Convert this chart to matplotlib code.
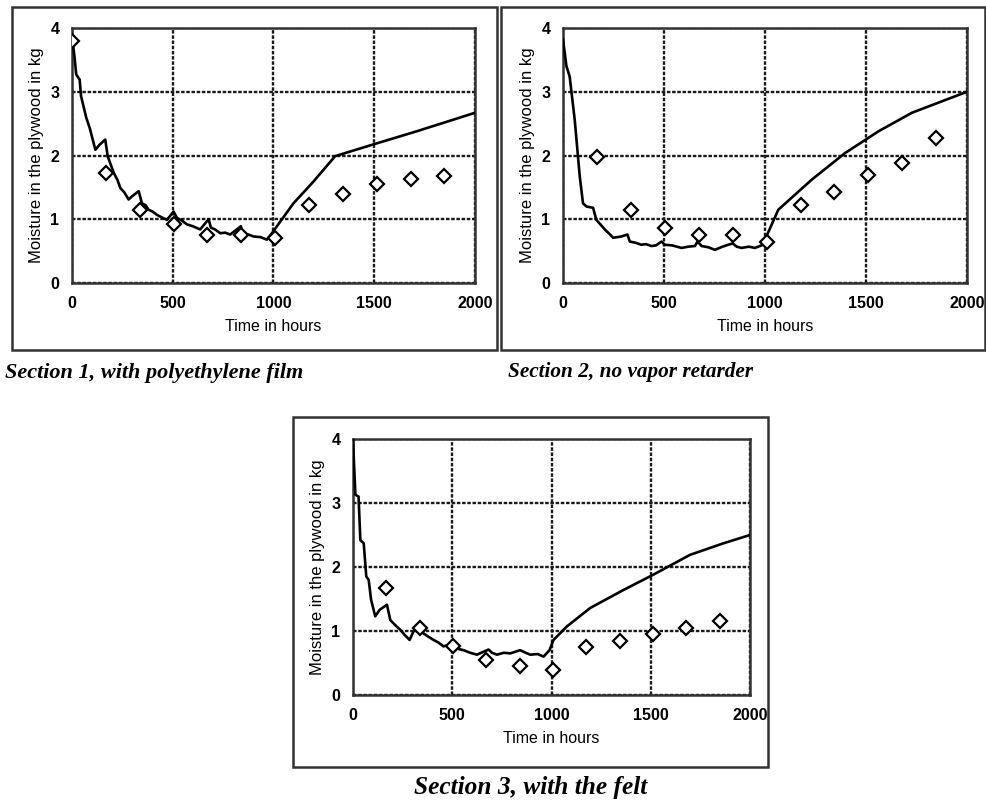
import matplotlib
matplotlib.use("Agg")
import matplotlib.pyplot as plt
from matplotlib.patches import Rectangle

# ---------------- data ----------------
meas_t = [0, 168, 336, 504, 672, 840, 1008, 1176, 1344, 1512, 1680, 1848]

# Section 1, with polyethylene film
s1_meas = [3.80, 1.72, 1.14, 0.93, 0.76, 0.76, 0.71, 1.22, 1.39, 1.55, 1.63, 1.68]
s1_t = [0, 12, 21, 38, 45, 71, 88, 116, 137, 165, 177, 207, 225, 240, 260, 281, 298, 331,
        347, 365, 380, 400, 421, 445, 471, 504, 521, 545, 570, 600, 636, 678, 689, 710, 736,
        760, 785, 838, 848, 875, 901, 935, 967, 992, 1017, 1099, 1198, 1306, 1512, 1711, 2000]
s1_sim = [3.87, 3.56, 3.27, 3.19, 2.93, 2.59, 2.43, 2.09, 2.17, 2.25, 1.99, 1.73,
          1.62, 1.49, 1.42, 1.31, 1.36, 1.44, 1.25, 1.22, 1.15, 1.12, 1.07, 1.03,
          0.99, 1.12, 1.02, 0.98, 0.92, 0.89, 0.84, 1.00, 0.87, 0.84, 0.78, 0.79,
          0.76, 0.89, 0.78, 0.76, 0.73, 0.72, 0.68, 0.78, 0.89, 1.25, 1.59,
          1.99, 2.19, 2.38, 2.67]

# Section 2, no vapor retarder
s2_meas = [1.98, 1.14, 0.86, 0.76, 0.76, 0.65, 1.22, 1.42, 1.70, 1.89, 2.27]
s2_meas_t = [168, 336, 504, 672, 840, 1008, 1176, 1344, 1512, 1680, 1848]
s2_t = [0, 17, 33, 58, 83, 99, 116, 149, 165, 185, 207, 230, 248, 270, 289, 319, 331,
        360, 388, 410, 438, 460, 488, 504, 540, 587, 620, 653, 666, 686, 720, 752,
        790, 818, 840, 860, 884, 920, 950, 983, 997, 1066, 1231, 1397, 1562, 1727, 2000]
s2_sim = [3.82, 3.40, 3.24, 2.56, 1.67, 1.25, 1.20, 1.18, 0.99, 0.92, 0.84, 0.77,
          0.71, 0.72, 0.73, 0.76, 0.65, 0.63, 0.60, 0.61, 0.58, 0.59, 0.65, 0.60,
          0.59, 0.55, 0.57, 0.58, 0.65, 0.58, 0.56, 0.52, 0.57, 0.60, 0.62, 0.57,
          0.55, 0.57, 0.55, 0.59, 0.66, 1.15, 1.62, 2.04, 2.38, 2.67, 3.00]

# Section 3, with the felt
s3_meas = [1.67, 1.04, 0.76, 0.55, 0.45, 0.39, 0.75, 0.85, 0.96, 1.04, 1.15]
s3_meas_t = [168, 336, 504, 672, 840, 1008, 1176, 1344, 1512, 1680, 1848]
s3_t = [0, 12, 28, 37, 54, 67, 79, 91, 112, 134, 171, 188, 210, 238, 260, 285, 309, 330,
        356, 380, 406, 430, 456, 480, 507, 530, 557, 590, 624, 683, 700, 725, 760, 792,
        842, 870, 893, 930, 960, 990, 1010, 1077, 1195, 1362, 1513, 1698, 1866, 2000]
s3_sim = [3.99, 3.13, 3.10, 2.42, 2.37, 1.85, 1.80, 1.49, 1.23, 1.33, 1.41,
          1.17, 1.10, 1.02, 0.94, 0.86, 1.02, 1.07, 0.96, 0.91, 0.86, 0.82, 0.76,
          0.78, 0.76, 0.72, 0.70, 0.66, 0.63, 0.71, 0.66, 0.63, 0.66, 0.65, 0.70,
          0.66, 0.63, 0.64, 0.60, 0.70, 0.86, 1.07, 1.36, 1.64, 1.88, 2.19, 2.37, 2.50]

xticks = [0, 500, 1000, 1500, 2000]
yticks = [0, 1, 2, 3, 4]
xlabel = "Time in hours"
ylabel = "Moisture in the plywood in kg"
captions = ["Section 1, with polyethylene film",
            "Section 2, no vapor retarder",
            "Section 3, with the felt"]

# ---------------- figure ----------------
W, H = 987, 801
fig = plt.figure(figsize=(W / 100, H / 100), dpi=100)
fig.patch.set_facecolor("white")


def fx(px):
    return px / W


def fy(py):
    return 1 - py / H


def frame(x0, y0, x1, y1):
    fig.patches.append(Rectangle((fx(x0), fy(y1)), fx(x1) - fx(x0), fy(y0) - fy(y1),
                                 transform=fig.transFigure, fill=False,
                                 edgecolor="#333333", linewidth=1.8, zorder=0))


def make_ax(l, t, r, b, sim_t, sim, mt, mv):
    ax = fig.add_axes([fx(l), fy(b), fx(r) - fx(l), fy(t) - fy(b)])
    ax.plot(sim_t, sim, color="black", linewidth=1.9, zorder=3)
    ax.plot(mt, mv, linestyle="none", marker="D", markersize=7.5,
            markerfacecolor="white", markeredgecolor="black",
            markeredgewidth=1.6, zorder=4)
    ax.set_xlim(0, 2000)
    ax.set_ylim(0, 4)
    ax.set_xticks(xticks)
    ax.set_yticks(yticks)
    ax.grid(True, color="#1a1a1a", linestyle=(0, (1.5, 0.7)), linewidth=1.7)
    ax.set_axisbelow(True)
    for s in ax.spines.values():
        s.set_color("#333333")
        s.set_linewidth(1.8)
    ax.tick_params(length=0, pad=9)
    for lab in ax.get_xticklabels() + ax.get_yticklabels():
        lab.set_fontfamily("Liberation Sans")
        lab.set_fontweight("bold")
        lab.set_fontsize(11.5)
    ax.set_xlabel(xlabel, fontfamily="Liberation Sans", fontsize=11.5,
                  labelpad=6)
    ax.set_ylabel(ylabel, fontfamily="Liberation Sans", fontsize=12,
                  labelpad=5)
    return ax


frame(12, 7, 497, 350)
frame(501, 7, 985, 350)
frame(293, 417, 768, 767)

make_ax(72, 28, 475, 283, s1_t, s1_sim, meas_t, s1_meas)
make_ax(563, 28, 967, 283, s2_t, s2_sim, s2_meas_t, s2_meas)
make_ax(353, 439, 750, 695, s3_t, s3_sim, s3_meas_t, s3_meas)

cap_kw = dict(fontfamily="Liberation Serif", fontstyle="italic",
              fontweight="bold", va="baseline")
fig.text(fx(5), fy(378), captions[0], ha="left", fontsize=16, **cap_kw)
fig.text(fx(508), fy(377), captions[1], ha="left", fontsize=15.3, **cap_kw)
fig.text(fx(531), fy(794), captions[2], ha="center", fontsize=18.3, **cap_kw)

fig.savefig("out.png", dpi=100, facecolor="white")
